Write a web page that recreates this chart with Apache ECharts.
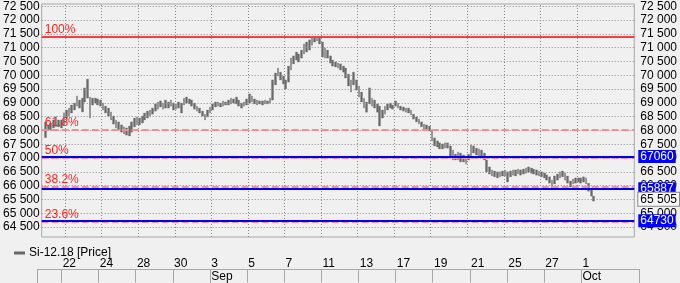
<!DOCTYPE html>
<html><head><meta charset="utf-8">
<script src="https://cdn.jsdelivr.net/npm/echarts@6/dist/echarts.min.js"></script>
<style>html,body{margin:0;padding:0;background:#f0f0f0;}#c{width:680px;height:283px;}</style>
</head><body><div id="c"></div>
<script>
const seriesName = 'Si-12.18 [Price]';
const tradingDays = ['08-20','08-21','08-22','08-23','08-24','08-27','08-28','08-29','08-30','08-31',
  '09-03','09-04','09-05','09-06','09-07','09-10','09-11','09-12','09-13','09-14',
  '09-17','09-18','09-19','09-20','09-21','09-24','09-25','09-26','09-27','09-28','10-01'];
const firstDayBars = 2;
const barsPerDay = 7;
const emptyBarsAfter = 15;
const labelDays = ['08-22','08-24','08-28','08-30','09-03','09-05','09-07','09-11','09-13','09-17','09-19','09-21','09-25','09-27','10-01'];
const monthStarts = {'09-03':'Sep','10-01':'Oct'};
const lows = [null,67740,68020,68020,68090,68130,68130,68090,68200,68440,68520,68630,68740,68880,68810,68670,69030,69170,68450,68920,
68990,68920,68880,68740,68630,68520,68380,68230,68090,68020,67940,67870,67830,67800,67940,68130,68200,68200,68270,68380,
68450,68520,68590,68700,68770,68850,68770,68810,68810,68880,68740,68770,68810,68630,68920,68990,68960,68880,68770,68700,
68630,68520,68380,68490,68630,68740,68850,68880,68850,68880,68920,68920,68960,68990,68960,68880,68810,68880,68920,68990,
69030,68960,68920,68960,68920,68960,68960,68990,69100,69650,69970,69830,69680,69500,69750,70190,70410,70550,70480,70620,
70770,70840,70910,71090,71200,71240,71130,70660,70620,70620,70440,70330,70300,70260,70190,70110,69900,69610,69390,69650,
69460,69210,69030,68810,68660,68960,68880,68810,68660,68160,68450,68590,68740,68810,68770,68880,68810,68740,68700,68660,
68630,68560,68410,68310,68230,68130,68050,68020,67980,67620,67440,67400,67330,67330,67360,67360,67070,66930,66930,66930,
66860,66860,66780,66930,67070,67180,67110,67070,67070,66930,66500,66420,66350,66320,66280,66320,66350,66350,66130,66320,
66380,66350,66420,66380,66420,66450,66490,66450,66420,66380,66350,66320,66280,66200,66090,65920,66060,66200,66280,66320,
66200,66090,65950,66060,66090,66130,66090,66130,66060,65800,65620,65440];
const highs = [null,68300,68200,68270,68380,68500,68380,68380,68640,68740,68810,68920,68990,69250,69100,69170,69540,69860,69210,69170,
69170,69140,69100,68990,68880,68810,68670,68520,68380,68310,68200,68130,68090,68160,68310,68450,68490,68450,68520,68630,
68700,68740,68810,68960,69030,69070,68990,69100,69030,69100,68990,68960,69030,68990,69170,69210,69140,69100,68990,68880,
68810,68700,68590,68740,68850,68960,69030,69030,68990,69070,69030,69100,69170,69140,69210,69100,68990,69030,69140,69320,
69250,69140,69100,69070,69070,69100,69070,69170,69830,70080,70260,70110,69970,69830,70330,70620,70700,70840,70770,70910,
71130,71200,71280,71350,71380,71380,71350,71200,70990,70910,70700,70550,70480,70440,70410,70330,70260,70040,69830,70110,
69830,69610,69390,69170,69030,69540,69170,69100,68960,68880,68740,68880,68960,68990,68920,69070,68990,68880,68850,68810,
68810,68740,68590,68490,68410,68310,68230,68200,68160,68020,67730,67620,67550,67510,67550,67550,67440,67290,67140,67220,
67180,67110,67040,67140,67470,67440,67360,67330,67290,67180,66930,66680,66570,66530,66500,66500,66530,66570,66500,66530,
66570,66570,66600,66570,66600,66640,66680,66640,66600,66570,66530,66500,66460,66390,66320,66200,66350,66420,66500,66530,
66460,66350,66170,66240,66280,66280,66280,66320,66280,66090,65840,65620];
const fibLevels = [71395, 68040, 67005, 65970, 64700];
const fibNames = ['100%','61.8%','50%','38.2%','23.6%'];
const blueLevels = [67060, 65887, 64730];
const lastPrice = 65505;
const yMin = 64140, yMax = 72580;
const yTicks = [64500,65000,65500,66000,66500,67000,67500,68000,68500,69000,69500,70000,70500,71000,71500,72000,72500];

// build categories
const categories = [];
const dayOfSlot = [];
tradingDays.forEach((d, di) => {
  const n = di === 0 ? firstDayBars : barsPerDay;
  const start = di === 0 ? barsPerDay - firstDayBars : 0;
  for (let k = 0; k < n; k++) { categories.push(d + ' #' + (start + k + 1)); dayOfSlot.push(d); }
});
for (let k = 0; k < emptyBarsAfter; k++) { categories.push('x' + k); dayOfSlot.push(null); }
const boundaries = categories.map((c, i) => 'b' + i).concat(['b' + categories.length]);
const firstSlot = {};
dayOfSlot.forEach((d, i) => { if (d && firstSlot[d] === undefined) firstSlot[d] = i; });
const labelSlots = labelDays.map(d => firstSlot[d]);
const labelSet = new Set(labelSlots);
const monthSet = new Set(Object.keys(monthStarts).map(d => firstSlot[d]));

const fmt = v => String(v).replace(/\B(?=(\d{3})+(?!\d))/g, ' ');
const FONT = 'Liberation Sans, Arial, sans-serif';
const dotted = {color: '#8a8a8a', type: [1, 2], width: 1};

const candleData = lows.map((l, i) => l == null ? ['-','-','-','-'] : [l, highs[i], l, highs[i]]);

const markData = [];
yTicks.forEach(v => markData.push({yAxis: v, lineStyle: dotted, label: {show: false}}));
fibLevels.forEach((v, i) => {
  markData.push({
    yAxis: v,
    lineStyle: i === 0 ? {color: '#ff3b3b', width: 2, type: 'solid'} : {color: '#f29090', width: 2, type: [7, 3]},
    label: {show: true, position: 'insideStartTop', formatter: fibNames[i], color: '#ff2020', fontSize: 12, distance: [3, 1], fontFamily: FONT}
  });
});
blueLevels.forEach(v => {
  markData.push({
    yAxis: v,
    lineStyle: {color: '#0000ff', width: 2, type: 'solid'},
    label: {show: true, position: 'end', distance: 4, formatter: String(v), color: '#ffffff', backgroundColor: '#0000ff',
      padding: [1, 2, 0, 2], fontSize: 12, fontFamily: FONT}
  });
});
markData.push({
  yAxis: lastPrice,
  lineStyle: {width: 1, color: 'rgba(0,0,0,0)'},
  label: {show: true, position: 'end', distance: 4, formatter: fmt(lastPrice), color: '#000', backgroundColor: '#f8f8f8',
    borderColor: '#8a8a8a', borderWidth: 1, padding: [1, 2, 0, 2], fontSize: 12, fontFamily: FONT}
});

const vGridMarks = labelSlots.map(i => ({xAxis: i}));

const chart = echarts.init(document.getElementById('c'));
chart.setOption({
  animation: false,
  backgroundColor: '#f0f0f0',
  textStyle: {fontFamily: FONT},
  legend: {
    left: 9, top: 242, itemWidth: 9, itemHeight: 6, itemGap: 5,
    data: [{name: seriesName, icon: 'path://M0,2.5H9V3.5H0Z', itemStyle: {color: '#404040'}}],
    textStyle: {fontSize: 12, color: '#000', fontFamily: FONT}
  },
  grid: [
    {left: 37.5, right: 40.5, top: 4, bottom: 46, show: true, backgroundColor: 'transparent', borderColor: '#a8a8a8', borderWidth: 1},
    {left: 37.5, right: 40.5, top: 256.5, height: 13.5, show: false}
  ],
  xAxis: [
    {gridIndex: 0, type: 'category', data: categories, boundaryGap: true,
      axisLine: {show: false}, axisTick: {show: false}, axisLabel: {show: false}, splitLine: {show: false}},
    {gridIndex: 1, type: 'category', data: categories, boundaryGap: true, position: 'top',
      axisLine: {show: true, lineStyle: {color: '#a8a8a8', width: 1}},
      axisTick: {show: true, inside: true, length: 13.5, interval: (i) => i === 0 || labelSet.has(i), lineStyle: {color: '#a8a8a8'}},
      axisLabel: {show: true, inside: true, margin: 1, align: 'left', verticalAlign: 'top', interval: (i) => labelSet.has(i),
        formatter: (v) => String(parseInt(v.slice(3, 5), 10)), color: '#000', fontSize: 12, fontFamily: FONT},
      splitLine: {show: false}},
    {gridIndex: 1, type: 'category', data: categories, boundaryGap: true, position: 'bottom',
      axisLine: {show: true, lineStyle: {color: '#a8a8a8', width: 1}},
      axisTick: {show: true, inside: false, length: 14, interval: (i) => i === 0 || monthSet.has(i), lineStyle: {color: '#a8a8a8'}},
      axisLabel: {show: true, margin: 2, align: 'left', verticalAlign: 'top', interval: (i) => monthSet.has(i),
        formatter: (v) => monthStarts[v.slice(0, 5)] || '', color: '#000', fontSize: 12, fontFamily: FONT},
      splitLine: {show: false}},
    {gridIndex: 0, type: 'category', data: boundaries, boundaryGap: false, show: false}
  ],
  yAxis: [
    {gridIndex: 0, type: 'value', min: yMin, max: yMax, position: 'left',
      axisLine: {show: false}, axisTick: {show: false, customValues: yTicks},
      axisLabel: {customValues: yTicks, formatter: fmt, margin: 2, color: '#000', fontSize: 12, fontFamily: FONT},
      splitLine: {show: false}},
    {gridIndex: 0, type: 'value', min: yMin, max: yMax, position: 'right',
      axisLine: {show: false}, axisTick: {show: false, customValues: yTicks},
      axisLabel: {customValues: yTicks, formatter: fmt, margin: 6, color: '#000', fontSize: 12, fontFamily: FONT},
      splitLine: {show: false}},
    {gridIndex: 1, type: 'value', show: false}
  ],
  series: [{
    name: 'grid', type: 'line', xAxisIndex: 3, yAxisIndex: 0, data: boundaries.map(() => '-'), silent: true, z: 1,
    showSymbol: false, lineStyle: {opacity: 0},
    markLine: {silent: true, symbol: ['none', 'none'], animation: false, label: {show: false},
      lineStyle: dotted, data: vGridMarks}
  }, {
    name: seriesName, type: 'candlestick', xAxisIndex: 0, yAxisIndex: 0, z: 3,
    data: candleData, barWidth: 2.2,
    itemStyle: {color: '#686868', color0: '#686868', borderColor: '#686868', borderColor0: '#686868', borderWidth: 0.3},
    markLine: {silent: true, symbol: ['none', 'none'], animation: false, data: markData}
  }]
});
</script></body></html>
